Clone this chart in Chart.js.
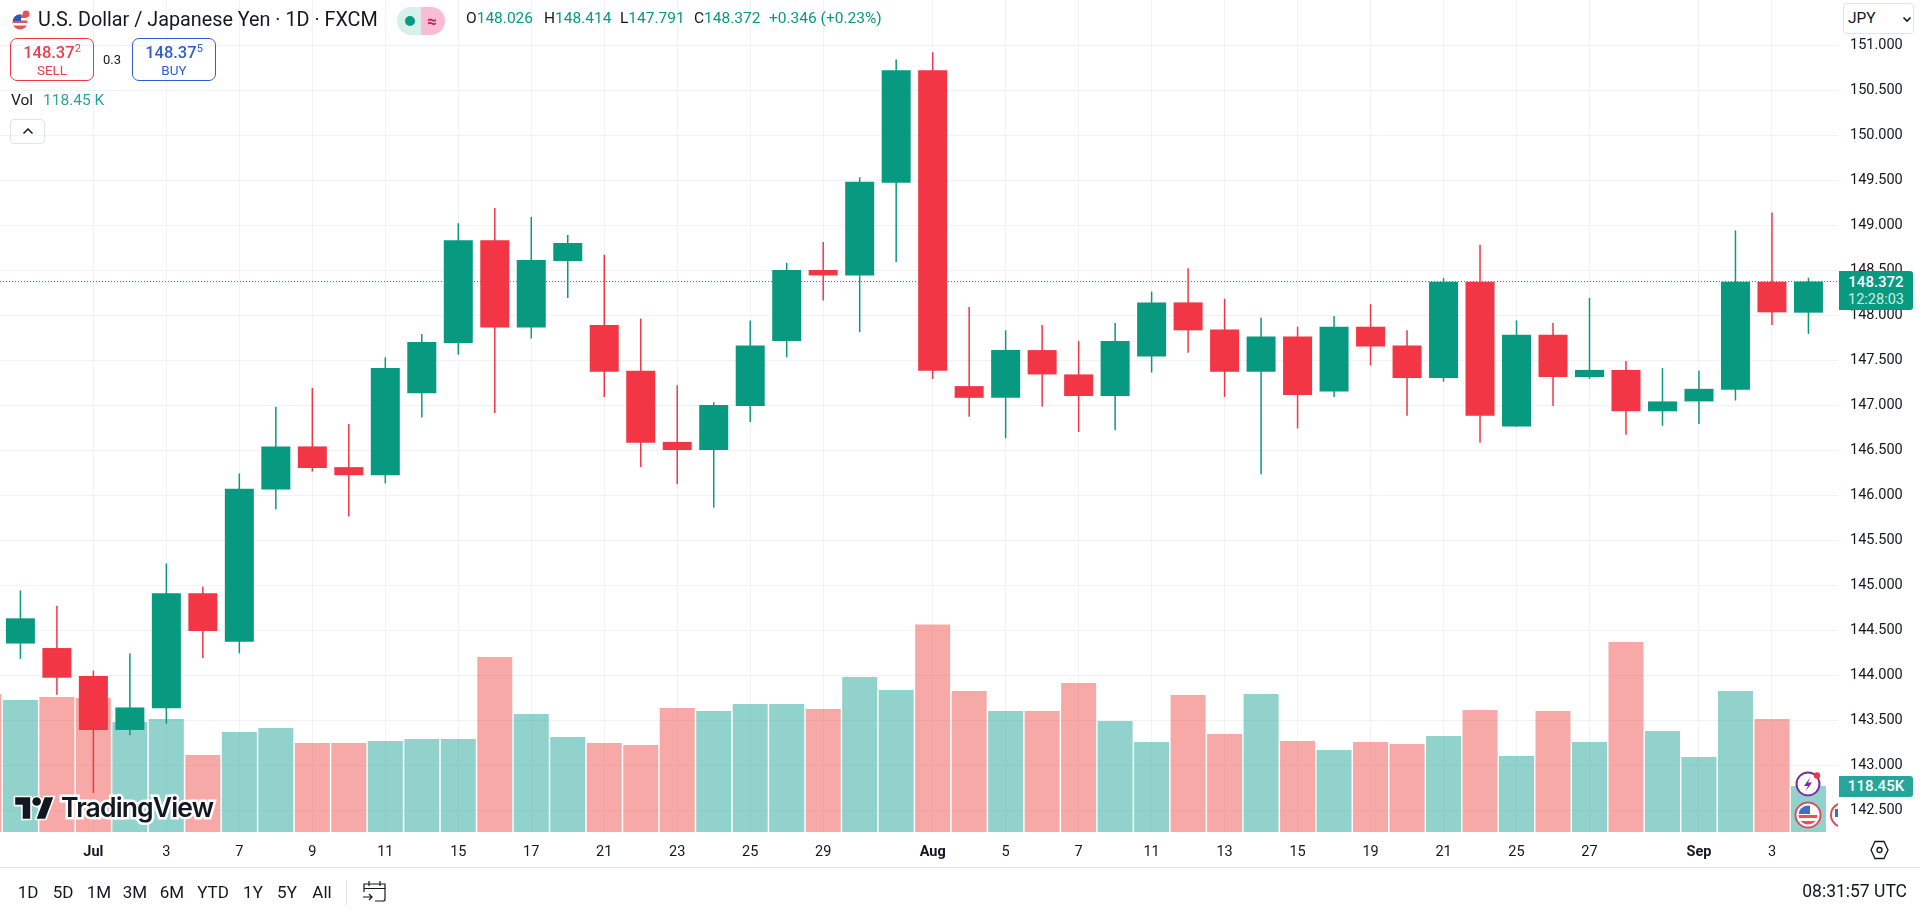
<!DOCTYPE html>
<html lang="en">
<head>
    <meta charset="UTF-8">
    <title>U.S. Dollar / Japanese Yen - 1D - FXCM</title>
    <script src="https://cdn.jsdelivr.net/npm/chart.js"></script>
    <style>
        html, body { margin: 0; padding: 0; background: #fff; overflow: hidden; }
        body { width: 1920px; height: 913px; position: relative; font-family: Roboto, sans-serif; color: #131722; }
        canvas { position: absolute; left: 0; top: 0; }
        .abs { position: absolute; white-space: nowrap; line-height: 1; }
        .mid { transform: translateY(-50%); }
        .ctr { transform: translate(-50%, -50%); }
        .title { font-size: 19.8px; left: 38px; top: 20px; }
        .ohlc { font-size: 15.5px; top: 19px; color: #089981; }
        .ohlc b { font-weight: 400; color: #131722; }
        .box { position: absolute; top: 38px; height: 41px; width: 82px; border: 1px solid; border-radius: 7px; text-align: center; box-sizing: content-box; }
        .box .p { font-size: 16.5px; font-weight: 500; margin-top: 5px; line-height: 17px; }
        .box .p sup { font-size: 11px; font-weight: 400; line-height: 0; }
        .box .s { font-size: 13.5px; line-height: 17px; margin-top: 1px; }
        .sell { left: 10px; border-color: #f23645; color: #e8404e; }
        .buy { left: 132px; border-color: #2f5fcf; color: #2f5fcf; }
        .range { font-size: 17px; top: 892px; }
        .tag { position: absolute; left: 1839px; width: 74px; border-radius: 0 3px 3px 0; color: #fff; text-align: center; }
        .logo { font-family: Inter, sans-serif; font-weight: 600; font-size: 26.6px; letter-spacing: -0.9px; left: 61px; top: 807px; color: #131722;
                -webkit-text-stroke: 5px #fff; paint-order: stroke fill; }
        svg { position: absolute; overflow: visible; }
    </style>
</head>
<body>
    <canvas id="chart" width="1920" height="913"></canvas>

    <!-- Legend -->
    <svg style="left:12px;top:10px" width="18" height="20" viewBox="0 0 18 20">
        <clipPath id="f1"><circle cx="8" cy="12" r="7.5"/></clipPath>
        <g clip-path="url(#f1)"><rect y="4" width="16" height="16" fill="#e8505b"/><rect y="8" width="16" height="2.5" fill="#fff"/><rect y="13" width="16" height="2.5" fill="#fff"/><rect y="4" width="9" height="7" fill="#2a5bb8"/></g>
        <circle cx="14" cy="4" r="3.5" fill="#e8505b"/>
    </svg>
    <div class="abs mid title">U.S. Dollar / Japanese Yen · 1D · FXCM</div>
    <div class="abs" style="left:397px;top:7px;width:24px;height:28px;background:#d6f0ea;border-radius:14px 0 0 14px"></div>
    <div class="abs" style="left:421px;top:7px;width:24px;height:28px;background:#f9bcd3;border-radius:0 14px 14px 0"></div>
    <div class="abs" style="left:405px;top:16px;width:10px;height:10px;background:#089981;border-radius:50%"></div>
    <div class="abs ctr" style="left:432px;top:21px;font-size:17px;font-weight:700;color:#c2185b">≈</div>
    <div class="abs mid ohlc" style="left:466px"><b>O</b>148.026</div>
    <div class="abs mid ohlc" style="left:544px"><b>H</b>148.414</div>
    <div class="abs mid ohlc" style="left:620px"><b>L</b>147.791</div>
    <div class="abs mid ohlc" style="left:694px"><b>C</b>148.372</div>
    <div class="abs mid ohlc" style="left:769px">+0.346 (+0.23%)</div>

    <div class="box sell"><div class="p">148.37<sup>2</sup></div><div class="s">SELL</div></div>
    <div class="abs ctr" style="left:112px;top:59px;font-size:13px">0.3</div>
    <div class="box buy"><div class="p">148.37<sup>5</sup></div><div class="s">BUY</div></div>

    <div class="abs mid" style="left:11px;top:101px;font-size:15.5px">Vol</div>
    <div class="abs mid" style="left:43px;top:101px;font-size:15.5px;color:#26a69a">118.45 K</div>
    <div class="abs" style="left:10px;top:119px;width:35px;height:25px;border:1px solid #e0e3eb;border-radius:4px;box-sizing:border-box"></div>
    <svg style="left:22px;top:127px" width="12" height="8"><path d="M1.5 6.5 L6 2 L10.5 6.5" fill="none" stroke="#131722" stroke-width="1.5"/></svg>

    <!-- Currency select -->
    <div class="abs" style="left:1843px;top:3px;width:71px;height:31px;border:1px solid #e0e3eb;border-radius:4px;box-sizing:border-box;background:#fff"></div>
    <div class="abs mid" style="left:1848px;top:19px;font-size:15.5px">JPY</div>
    <svg style="left:1902px;top:16px" width="10" height="7"><path d="M1.5 1.5 L5 5 L8.5 1.5" fill="none" stroke="#131722" stroke-width="1.6"/></svg>

    <!-- Last price and volume tags -->
    <div class="tag" style="top:271px;height:39px;background:#089981">
        <div style="font-size:15px;font-weight:500;line-height:17px;margin-top:3px">148.372</div>
        <div style="font-size:14.5px;line-height:17px;color:#c8f0e4">12:28:03</div>
    </div>
    <div class="tag" style="top:776px;height:21px;background:#26a69a;font-size:15px;font-weight:500;line-height:21px">118.45K</div>

    <!-- Event icons -->
    <svg style="left:1795px;top:771px" width="26" height="26" viewBox="0 0 26 26">
        <circle cx="13" cy="13" r="12.5" fill="#fff"/><circle cx="13" cy="13" r="11.5" fill="#fff" stroke="#7b2d9b" stroke-width="2"/>
        <path d="M15.5 6 L9 15 L13 15 L10.5 20.5 L17 11.5 L13 11.5 Z" fill="#7b2d9b"/><circle cx="22" cy="4.5" r="3.2" fill="#e8394a"/>
    </svg>
    <svg style="left:1795px;top:802px" width="26" height="26" viewBox="0 0 26 26">
        <circle cx="13" cy="13" r="12.5" fill="#fff" stroke="#d9505c" stroke-width="2"/>
        <clipPath id="f2"><circle cx="13" cy="13" r="9.5"/></clipPath>
        <g clip-path="url(#f2)"><rect x="3" y="3" width="20" height="20" fill="#fff"/><rect x="3" y="13" width="20" height="3" fill="#e8505b"/><rect x="3" y="19" width="20" height="4" fill="#e8505b"/><rect x="3" y="3" width="12" height="9" fill="#3f6fc4"/></g>
    </svg>
    <svg style="left:1830px;top:802px;overflow:hidden" width="8" height="26" viewBox="0 0 8 26">
        <circle cx="13" cy="13" r="12" fill="#fff" stroke="#d9505c" stroke-width="2"/><rect x="5" y="7" width="3" height="8" fill="#3f6fc4"/>
    </svg>

    <!-- TradingView logo -->
    <svg style="left:14px;top:793px" width="41" height="30" viewBox="0 0 36 28">
        <g fill="#131722" stroke="#fff" stroke-width="3" paint-order="stroke">
            <path d="M14 24H7V11H0V4h14v20zM28 24h-8l7.5-20h8L28 24z"/><circle cx="20" cy="8" r="4"/>
        </g>
    </svg>
    <div class="abs mid logo">TradingView</div>

    <!-- Bottom toolbar -->
    <svg style="left:1870px;top:840px" width="19" height="20" viewBox="0 0 19 20">
        <path d="M5 1.5 H14 L18 10 L14 18.5 H5 L1 10 Z" fill="none" stroke="#131722" stroke-width="1.3"/><circle cx="9.5" cy="10" r="2.5" fill="none" stroke="#131722" stroke-width="1.3"/>
    </svg>
    <div class="abs" style="left:0;top:867px;width:1920px;height:1px;background:#e0e3eb"></div>
    <div class="abs ctr range" style="left:28px">1D</div>
    <div class="abs ctr range" style="left:63px">5D</div>
    <div class="abs ctr range" style="left:99px">1M</div>
    <div class="abs ctr range" style="left:135px">3M</div>
    <div class="abs ctr range" style="left:172px">6M</div>
    <div class="abs ctr range" style="left:213px">YTD</div>
    <div class="abs ctr range" style="left:253px">1Y</div>
    <div class="abs ctr range" style="left:287px">5Y</div>
    <div class="abs ctr range" style="left:322px">All</div>
    <div class="abs" style="left:346px;top:880px;width:1px;height:25px;background:#e0e3eb"></div>
    <svg style="left:362px;top:879px" width="25" height="24" viewBox="0 0 25 24">
        <path d="M2 13 V5 H23 V20 Q23 22 21 22 H13 M2 9.5 H23 M7 2 V7 M18 2 V7 M1 18 H10 M7 15 L10 18 L7 21" fill="none" stroke="#131722" stroke-width="1.2"/>
    </svg>
    <div class="abs mid" style="right:13px;top:892px;font-size:17.5px">08:31:57 UTC</div>

    <script>
        // Candles, oldest first
        const opens  = [144.35, 144.30, 143.99, 143.39, 143.63, 144.91, 144.37, 146.06, 146.54, 146.31, 146.22, 147.13, 147.69, 148.83, 147.86, 148.60, 147.89, 147.38, 146.59, 146.50, 146.99, 147.71, 148.50, 148.44, 149.47, 150.72, 147.21, 147.08, 147.61, 147.34, 147.10, 147.54, 148.14, 147.84, 147.37, 147.76, 147.15, 147.87, 147.66, 147.30, 148.37, 146.76, 147.78, 147.31, 147.39, 146.93, 147.04, 147.17, 148.37, 148.026];
        const highs  = [144.94, 144.77, 144.05, 144.24, 145.24, 144.98, 146.24, 146.98, 147.19, 146.79, 147.53, 147.79, 149.02, 149.19, 149.09, 148.89, 148.67, 147.96, 147.22, 147.03, 147.94, 148.58, 148.81, 149.53, 150.84, 150.92, 148.09, 147.83, 147.89, 147.71, 147.91, 148.26, 148.52, 148.18, 147.97, 147.87, 147.99, 148.12, 147.83, 148.41, 148.78, 147.94, 147.91, 148.19, 147.49, 147.41, 147.38, 148.94, 149.14, 148.414];
        const lows   = [144.18, 143.78, 142.69, 143.33, 143.46, 144.19, 144.24, 145.84, 146.26, 145.76, 146.13, 146.86, 147.56, 146.91, 147.74, 148.19, 147.09, 146.31, 146.12, 145.86, 146.81, 147.53, 148.16, 147.81, 148.59, 147.29, 146.87, 146.63, 146.98, 146.70, 146.72, 147.36, 147.58, 147.09, 146.23, 146.74, 147.09, 147.44, 146.88, 147.26, 146.58, 146.76, 146.99, 147.29, 146.67, 146.77, 146.79, 147.05, 147.89, 147.791];
        const closes = [144.63, 143.97, 143.39, 143.64, 144.91, 144.49, 146.07, 146.54, 146.30, 146.22, 147.41, 147.70, 148.83, 147.86, 148.61, 148.80, 147.37, 146.58, 146.50, 147.00, 147.66, 148.50, 148.44, 149.48, 150.72, 147.38, 147.08, 147.61, 147.34, 147.10, 147.71, 148.14, 147.83, 147.37, 147.76, 147.11, 147.87, 147.65, 147.30, 148.37, 146.88, 147.78, 147.31, 147.39, 146.93, 147.04, 147.18, 148.37, 148.03, 148.372];

        // Volume in thousands, one per candle. The bar cut off by the left edge comes first.
        const clippedVolume = 355.4;
        const volumes = [339.9, 347.6, 345.1, 283.3, 291.0, 198.3, 257.5, 267.8, 229.2, 229.2, 234.3, 239.5, 239.5, 450.6, 303.9, 244.6, 229.2, 224.0, 319.3, 311.6, 329.6, 329.6, 316.7, 399.1, 365.7, 534.3, 363.1, 311.6, 311.6, 383.7, 285.8, 231.8, 352.8, 252.4, 355.4, 234.3, 211.2, 231.8, 226.6, 247.2, 314.2, 195.7, 311.6, 231.8, 489.3, 260.1, 193.1, 363.1, 291.0, 118.45];

        const timeTickDays = [2, 4, 6, 8, 10, 12, 14, 16, 18, 20, 22, 25, 27, 29, 31, 33, 35, 37, 39, 41, 43, 46, 48];
        const timeTickLabels = ['Jul', '3', '7', '9', '11', '15', '17', '21', '23', '25', '29', 'Aug', '5', '7', '11', '13', '15', '19', '21', '25', '27', 'Sep', '3'];
        const monthLabels = ['Jul', 'Aug', 'Sep'];
        const priceTicks = [142.5, 143, 143.5, 144, 144.5, 145, 145.5, 146, 146.5, 147, 147.5, 148, 148.5, 149, 149.5, 150, 150.5, 151];
        const lastPrice = 148.372;

        // Visible window of the chart
        const firstDay = -0.559, lastDay = 49.81;
        const lowPrice = 142.256, highPrice = 151.5;
        const volumeTop = 2142.4;

        const UP = '#089981', DOWN = '#f23645';
        const VOL_UP = 'rgba(38,166,154,0.5)', VOL_DOWN = 'rgba(239,83,80,0.5)';
        const GRID = '#f0f2f5';

        const isUp = closes.map((c, i) => c >= opens[i]);
        const candleColors = isUp.map(u => u ? UP : DOWN);
        const bodies = closes.map((c, i) => ({ x: i, y: [opens[i], c] }));
        const wicks = highs.map((h, i) => ({ x: i, y: [lows[i], h] }));
        const volumeBars = [{ x: -1, y: clippedVolume }].concat(volumes.map((v, i) => ({ x: i, y: v })));
        const volumeColors = [VOL_DOWN].concat(isUp.map(u => u ? VOL_UP : VOL_DOWN));

        // Chart.js leaves room for the outer tick labels, the plot has to fill the canvas here
        function noScalePadding(s) {
            s.paddingTop = s.paddingBottom = s.paddingLeft = s.paddingRight = 0;
        }

        new Chart(document.getElementById('chart').getContext('2d'), {
            type: 'bar',
            data: {
                datasets: [
                    { label: 'Volume', data: volumeBars, yAxisID: 'volume', backgroundColor: volumeColors, barThickness: 35, grouped: false, inflateAmount: 0, order: 4 },
                    { type: 'line', label: 'Last', data: [{ x: firstDay, y: lastPrice }, { x: lastDay, y: lastPrice }], yAxisID: 'y', borderColor: UP, borderWidth: 1, borderDash: [1, 2], pointRadius: 0, order: 3 },
                    { label: 'Wick', data: wicks, yAxisID: 'y', backgroundColor: candleColors, barThickness: 1.5, grouped: false, inflateAmount: 0, order: 2 },
                    { label: 'Body', data: bodies, yAxisID: 'y', backgroundColor: candleColors, barThickness: 29, grouped: false, inflateAmount: 0, order: 1 }
                ]
            },
            options: {
                responsive: false,
                animation: false,
                layout: { padding: 0 },
                plugins: { legend: { display: false }, tooltip: { enabled: false } },
                scales: {
                    x: {
                        type: 'linear',
                        position: 'bottom',
                        offset: false,
                        min: firstDay,
                        max: lastDay,
                        afterFit: s => { s.height = 81; noScalePadding(s); },
                        afterBuildTicks: s => { s.ticks = timeTickDays.map(d => ({ value: d })); },
                        grid: { color: GRID, drawTicks: false, offset: false },
                        border: { display: false },
                        ticks: {
                            autoSkip: false,
                            maxRotation: 0,
                            padding: 12,
                            color: '#131722',
                            font: ctx => ({ family: 'Roboto', size: 14.5, weight: monthLabels.includes(ctx.tick && ctx.tick.label) ? '700' : '400' }),
                            callback: value => timeTickLabels[timeTickDays.indexOf(value)]
                        }
                    },
                    y: {
                        position: 'right',
                        min: lowPrice,
                        max: highPrice,
                        afterFit: s => { s.width = 82; noScalePadding(s); },
                        afterBuildTicks: s => { s.ticks = priceTicks.map(p => ({ value: p })); },
                        grid: { color: GRID, drawTicks: false },
                        border: { display: false },
                        ticks: {
                            padding: 12,
                            color: '#131722',
                            font: { family: 'Roboto', size: 14.5 },
                            callback: value => value.toFixed(3)
                        }
                    },
                    volume: { display: false, position: 'right', min: 0, max: volumeTop }
                }
            }
        });
    </script>
</body>
</html>
